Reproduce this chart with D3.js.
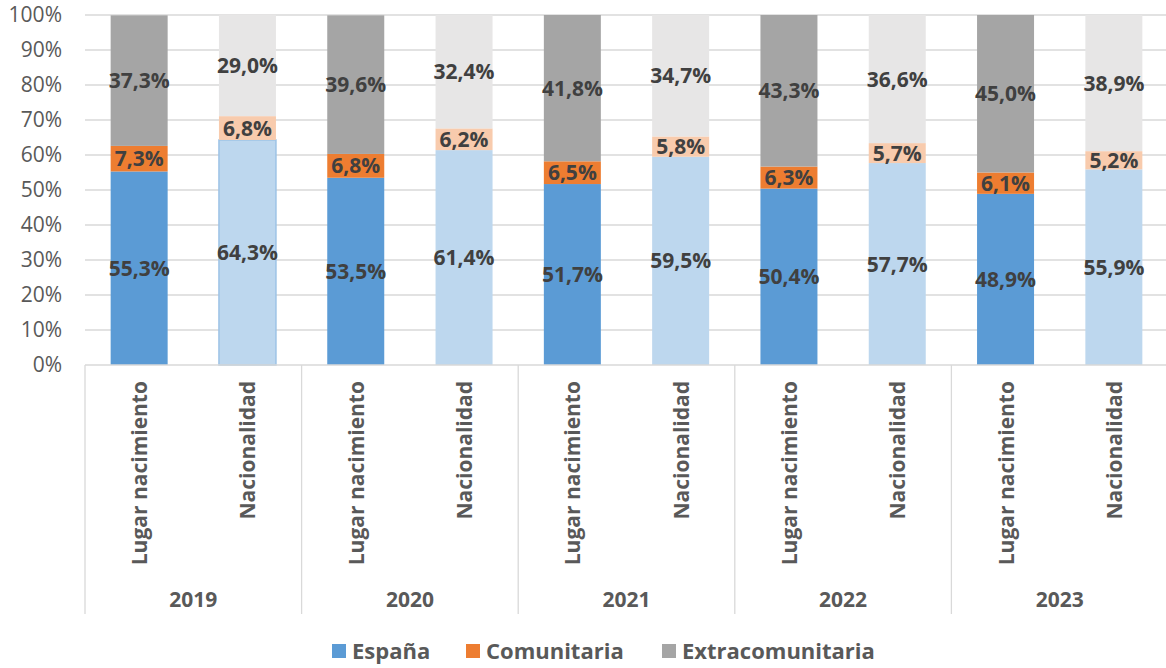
<!DOCTYPE html>
<html>
<head>
<meta charset="utf-8">
<script src="https://cdn.jsdelivr.net/npm/d3@7"></script>
<style>
  body { margin: 0; background: #fff; }
  text { font-family: "Open Sans", "Liberation Sans", sans-serif; }
</style>
</head>
<body>
<div id="chart"></div>
<script>
// data
let years = ["2019", "2020", "2021", "2022", "2023"];
let kinds = ["Lugar nacimiento", "Nacionalidad"];
let series = ["España", "Comunitaria", "Extracomunitaria"];

let espana = [55.3, 64.3, 53.5, 61.4, 51.7, 59.5, 50.4, 57.7, 48.9, 55.9];
let comunitaria = [7.3, 6.8, 6.8, 6.2, 6.5, 5.8, 6.3, 5.7, 6.1, 5.2];
let extra = [37.3, 29.0, 39.6, 32.4, 41.8, 34.7, 43.3, 36.6, 45.0, 38.9];

let yTicks = [0, 10, 20, 30, 40, 50, 60, 70, 80, 90, 100];

// colours: dark for "Lugar nacimiento", light for "Nacionalidad"
let darkColors = ["#5b9bd5", "#ed7d31", "#a5a5a5"];
let lightColors = ["#bdd7ee", "#f8cbad", "#e7e6e6"];

let width = 1166, height = 668;
let margin = {top: 15, right: 0, bottom: 303, left: 85};

let svg = d3.select("#chart").append("svg")
    .attr("width", width)
    .attr("height", height);

let rows = [];
years.forEach((yr, i) => {
    kinds.forEach((k, j) => {
        let n = i * 2 + j;
        rows.push({year: yr, kind: k, idx: n,
            "España": espana[n], "Comunitaria": comunitaria[n], "Extracomunitaria": extra[n]});
    });
});

let stack = d3.stack().keys(series)(rows);

let x0 = d3.scaleBand().domain(years).range([margin.left, 1168]);
let y = d3.scaleLinear().domain([0, 100]).range([365, margin.top]);

// gridlines
svg.append("g").selectAll("line")
    .data(yTicks.slice(1))
    .enter().append("line")
    .attr("x1", margin.left).attr("x2", width)
    .attr("y1", d => y(d)).attr("y2", d => y(d))
    .attr("stroke", "#d9d9d9").attr("stroke-width", 1.3);

// y labels
svg.append("g").selectAll("text")
    .data(yTicks)
    .enter().append("text")
    .attr("x", 62).attr("y", d => y(d))
    .attr("dy", "0.35em")
    .attr("text-anchor", "end")
    .style("font-size", "21px")
    .style("fill", "#595959")
    .text(d => d + "%");

let bw = 57;
let xc = d => x0(d.data.year) + (d.data.kind === kinds[0] ? x0.bandwidth() * 0.25 : x0.bandwidth() * 0.75);

// bars
stack.forEach((s, si) => {
    svg.append("g").selectAll("rect")
        .data(s)
        .enter().append("rect")
        .attr("x", d => xc(d) - bw / 2)
        .attr("width", bw)
        .attr("y", d => y(d[1]))
        .attr("height", d => y(d[0]) - y(d[1]))
        .attr("fill", d => d.data.kind === kinds[0] ? darkColors[si] : lightColors[si])
        // the 2019 Nacionalidad bar is outlined in the original
        .attr("stroke", d => (si === 0 && d.data.idx === 1) ? "#9dc3e6" : "none")
        .attr("stroke-width", 1.5);
});

// labels
stack.forEach((s, si) => {
    svg.append("g").selectAll("text")
        .data(s)
        .enter().append("text")
        .attr("x", d => xc(d))
        .attr("y", d => y((d[0] + d[1]) / 2))
        .attr("dy", "0.36em")
        .attr("text-anchor", "middle")
        .style("font-size", "21px")
        .style("font-weight", "bold")
        .style("fill", "#404040")
        .text(d => d3.format(".1f")(d[1] - d[0]).replace(".", ",") + "%");
});

// x axis base + separators
svg.append("line")
    .attr("x1", margin.left).attr("x2", width)
    .attr("y1", y(0)).attr("y2", y(0))
    .attr("stroke", "#d9d9d9").attr("stroke-width", 1.3);

svg.append("g").selectAll("line")
    .data(years.concat(["end"]))
    .enter().append("line")
    .attr("x1", (d, i) => margin.left + i * x0.bandwidth())
    .attr("x2", (d, i) => margin.left + i * x0.bandwidth())
    .attr("y1", y(0)).attr("y2", 614)
    .attr("stroke", "#d9d9d9").attr("stroke-width", 1.3);

// category labels (rotated)
rows.forEach(r => {
    let cx = x0(r.year) + (r.kind === kinds[0] ? x0.bandwidth() * 0.25 : x0.bandwidth() * 0.75);
    svg.append("text")
        .attr("transform", "translate(" + (cx + 8) + ",381) rotate(-90)")
        .attr("text-anchor", "end")
        .style("font-size", "21px")
        .style("font-weight", "bold")
        .style("fill", "#595959")
        .text(r.kind);
});

// year labels
svg.append("g").selectAll("text")
    .data(years)
    .enter().append("text")
    .attr("x", d => x0(d) + x0.bandwidth() / 2)
    .attr("y", 600)
    .attr("dy", "0.35em")
    .attr("text-anchor", "middle")
    .style("font-size", "21px")
    .style("font-weight", "bold")
    .style("fill", "#595959")
    .text(d => d);

// legend
let legendX = [332, 466, 662];
let legend = svg.append("g").selectAll("g")
    .data(series)
    .enter().append("g")
    .attr("transform", (d, i) => "translate(" + legendX[i] + ",651)");
legend.append("rect")
    .attr("x", 0).attr("y", -7)
    .attr("width", 14).attr("height", 14)
    .attr("fill", (d, i) => darkColors[i]);
legend.append("text")
    .attr("x", 20).attr("y", 0)
    .attr("dy", "0.35em")
    .style("font-size", "22px")
    .style("font-weight", "bold")
    .style("fill", "#595959")
    .text(d => d);
</script>
</body>
</html>
